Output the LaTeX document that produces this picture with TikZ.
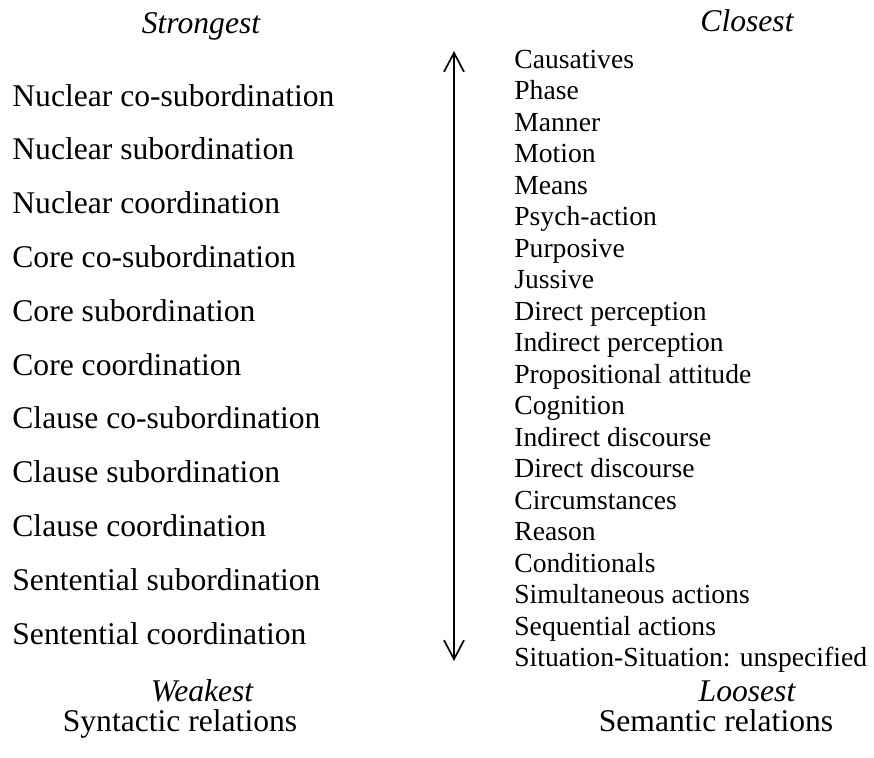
\documentclass[tikz,border=0pt]{standalone}
\usepackage{fontspec}
\setmainfont{Liberation Serif}
\usetikzlibrary{arrows.meta}

\begin{document}
\begin{tikzpicture}[
  x=0.5pt, y=-0.5pt,
  syn/.style={
    anchor=base west,
    inner sep=0pt,
    font=\fontsize{15.8}{19}\selectfont
  },
  sem/.style={
    anchor=base west,
    inner sep=0pt,
    font=\fontsize{13.8}{17}\selectfont
  },
  pole/.style={
    anchor=base,
    inner sep=0pt,
    font=\fontsize{15.8}{19}\selectfont\itshape
  },
  title/.style={
    anchor=base,
    inner sep=0pt,
    font=\fontsize{15.8}{19}\selectfont
  },
  arrow/.style={{Straight Barb[length=9.5pt,width=10pt]}-{Straight Barb[length=9.5pt,width=10pt]},line width=0.85pt}
]
  \useasboundingbox (0,0) rectangle (874,757);

  % headers
  \node[pole] (strong) at (201,33) {Strongest};
  \node[pole] (close) at (747,31) {Closest};

  % syntactic column
  \node[syn] (syn1) at (12,106) {Nuclear co-subordination};
  \node[syn] (syn2) at (12,159.8) {Nuclear subordination};
  \node[syn] (syn3) at (12,213.6) {Nuclear coordination};
  \node[syn] (syn4) at (12,267.4) {Core co-subordination};
  \node[syn] (syn5) at (12,321.2) {Core subordination};
  \node[syn] (syn6) at (12,375) {Core coordination};
  \node[syn] (syn7) at (12,428.8) {Clause co-subordination};
  \node[syn] (syn8) at (12,482.6) {Clause subordination};
  \node[syn] (syn9) at (12,536.4) {Clause coordination};
  \node[syn] (syn10) at (12,590.2) {Sentential subordination};
  \node[syn] (syn11) at (12,644) {Sentential coordination};

  % semantic column
  \node[sem] (sem1) at (514,68) {Causatives};
  \node[sem] (sem2) at (514,99.5) {Phase};
  \node[sem] (sem3) at (514,131) {Manner};
  \node[sem] (sem4) at (514,162.5) {Motion};
  \node[sem] (sem5) at (514,194) {Means};
  \node[sem] (sem6) at (514,225.5) {Psych-action};
  \node[sem] (sem7) at (514,257) {Purposive};
  \node[sem] (sem8) at (514,288.5) {Jussive};
  \node[sem] (sem9) at (514,320) {Direct perception};
  \node[sem] (sem10) at (514,351.5) {Indirect perception};
  \node[sem] (sem11) at (514,383) {Propositional attitude};
  \node[sem] (sem12) at (514,414.5) {Cognition};
  \node[sem] (sem13) at (514,446) {Indirect discourse};
  \node[sem] (sem14) at (514,477.5) {Direct discourse};
  \node[sem] (sem15) at (514,509) {Circumstances};
  \node[sem] (sem16) at (514,540.5) {Reason};
  \node[sem] (sem17) at (514,572) {Conditionals};
  \node[sem] (sem18) at (514,603.5) {Simultaneous actions};
  \node[sem] (sem19) at (514,635) {Sequential actions};
  \node[sem] (sem20) at (514,666.5) {Situation-Situation: unspecified};

  % footers
  \node[pole] (weak) at (202,701) {Weakest};
  \node[pole] (loose) at (747,701) {Loosest};
  \node[title] (syntactic) at (180,731) {Syntactic relations};
  \node[title] (semantic) at (716,731) {Semantic relations};

  % scale arrow
  \coordinate (top) at (454,51);
  \coordinate (bottom) at (454,661);
  \draw[arrow] (bottom) -- (top);
\end{tikzpicture}
\end{document}
